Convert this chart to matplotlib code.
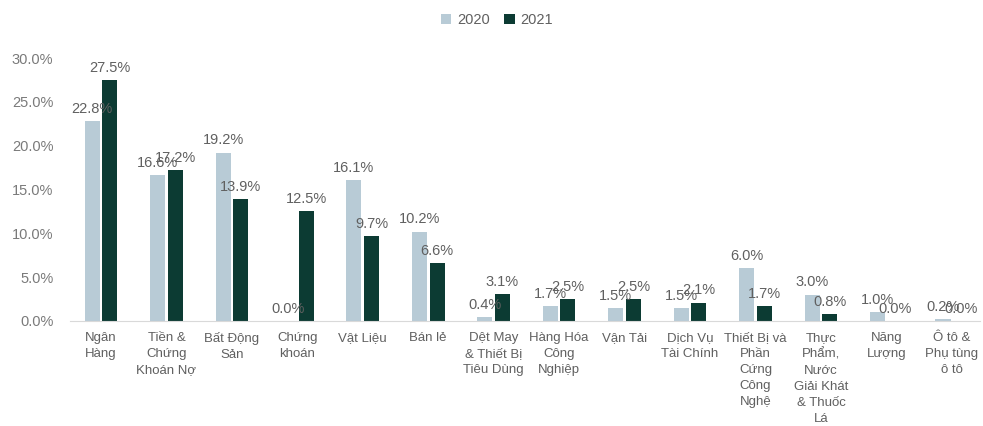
import numpy as np
import matplotlib.pyplot as plt

plt.rcParams['font.family'] = ['Liberation Sans', 'DejaVu Sans']

# dữ liệu
categories = ["Ngân\nHàng", "Tiền &\nChứng\nKhoán Nợ", "Bất Động\nSản", "Chứng\nkhoán",
              "Vật Liệu", "Bán lẻ", "Dệt May\n& Thiết Bị\nTiêu Dùng", "Hàng Hóa\nCông\nNghiệp",
              "Vận Tải", "Dịch Vụ\nTài Chính", "Thiết Bị và\nPhần\nCứng\nCông\nNghệ",
              "Thực\nPhẩm,\nNước\nGiải Khát\n& Thuốc\nLá", "Năng\nLượng", "Ô tô &\nPhụ tùng\nô tô"]
vals_2020 = [22.8, 16.6, 19.2, 0.0, 16.1, 10.2, 0.4, 1.7, 1.5, 1.5, 6.0, 3.0, 1.0, 0.2]
vals_2021 = [27.5, 17.2, 13.9, 12.5, 9.7, 6.6, 3.1, 2.5, 2.5, 2.1, 1.7, 0.8, 0.0, 0.0]
yticks = [0, 5, 10, 15, 20, 25, 30]

c2020 = '#b8cbd6'
c2021 = '#0c3b33'
txt = '#606060'

W, H = 983, 426
fig = plt.figure(figsize=(W / 100, H / 100), dpi=100)
ax = fig.add_axes([70 / W, 105 / H, 910 / W, 280.5 / H])

x = np.arange(len(categories))
bw = 0.23
b1 = ax.bar(x - bw / 2 - 0.02, vals_2020, bw, color=c2020, label='2020')
b2 = ax.bar(x + bw / 2 + 0.02, vals_2021, bw, color=c2021, label='2021')

for bars, vals in [(b1, vals_2020), (b2, vals_2021)]:
    for b, v in zip(bars, vals):
        ax.text(b.get_x() + b.get_width() / 2, v + 0.6, f'{v:.1f}%',
                ha='center', va='bottom', fontsize=10.5, color=txt)

ax.set_xlim(-0.473, 13.43)
ax.set_ylim(0, 32)
ax.set_yticks(yticks)
ax.set_yticklabels([f'{t:.1f}%' for t in yticks])
ax.set_xticks(x)
ax.set_xticklabels(categories, fontsize=9.5, color=txt, linespacing=1.45)
ax.tick_params(axis='y', labelsize=10.5, colors='#7a7a7a', length=0, pad=12)
ax.tick_params(axis='x', length=0, pad=8)
for s in ['top', 'right', 'left']:
    ax.spines[s].set_visible(False)
ax.spines['bottom'].set_color('#d9d9d9')

fig.legend(handles=[b1, b2], loc='center', bbox_to_anchor=(497 / W, 1 - 20 / H), ncol=2,
           frameon=False, fontsize=10.5, handlelength=0.7, handleheight=0.7,
           handletextpad=0.4, columnspacing=1.0, labelcolor=txt)

fig.savefig('out.png', dpi=100)
